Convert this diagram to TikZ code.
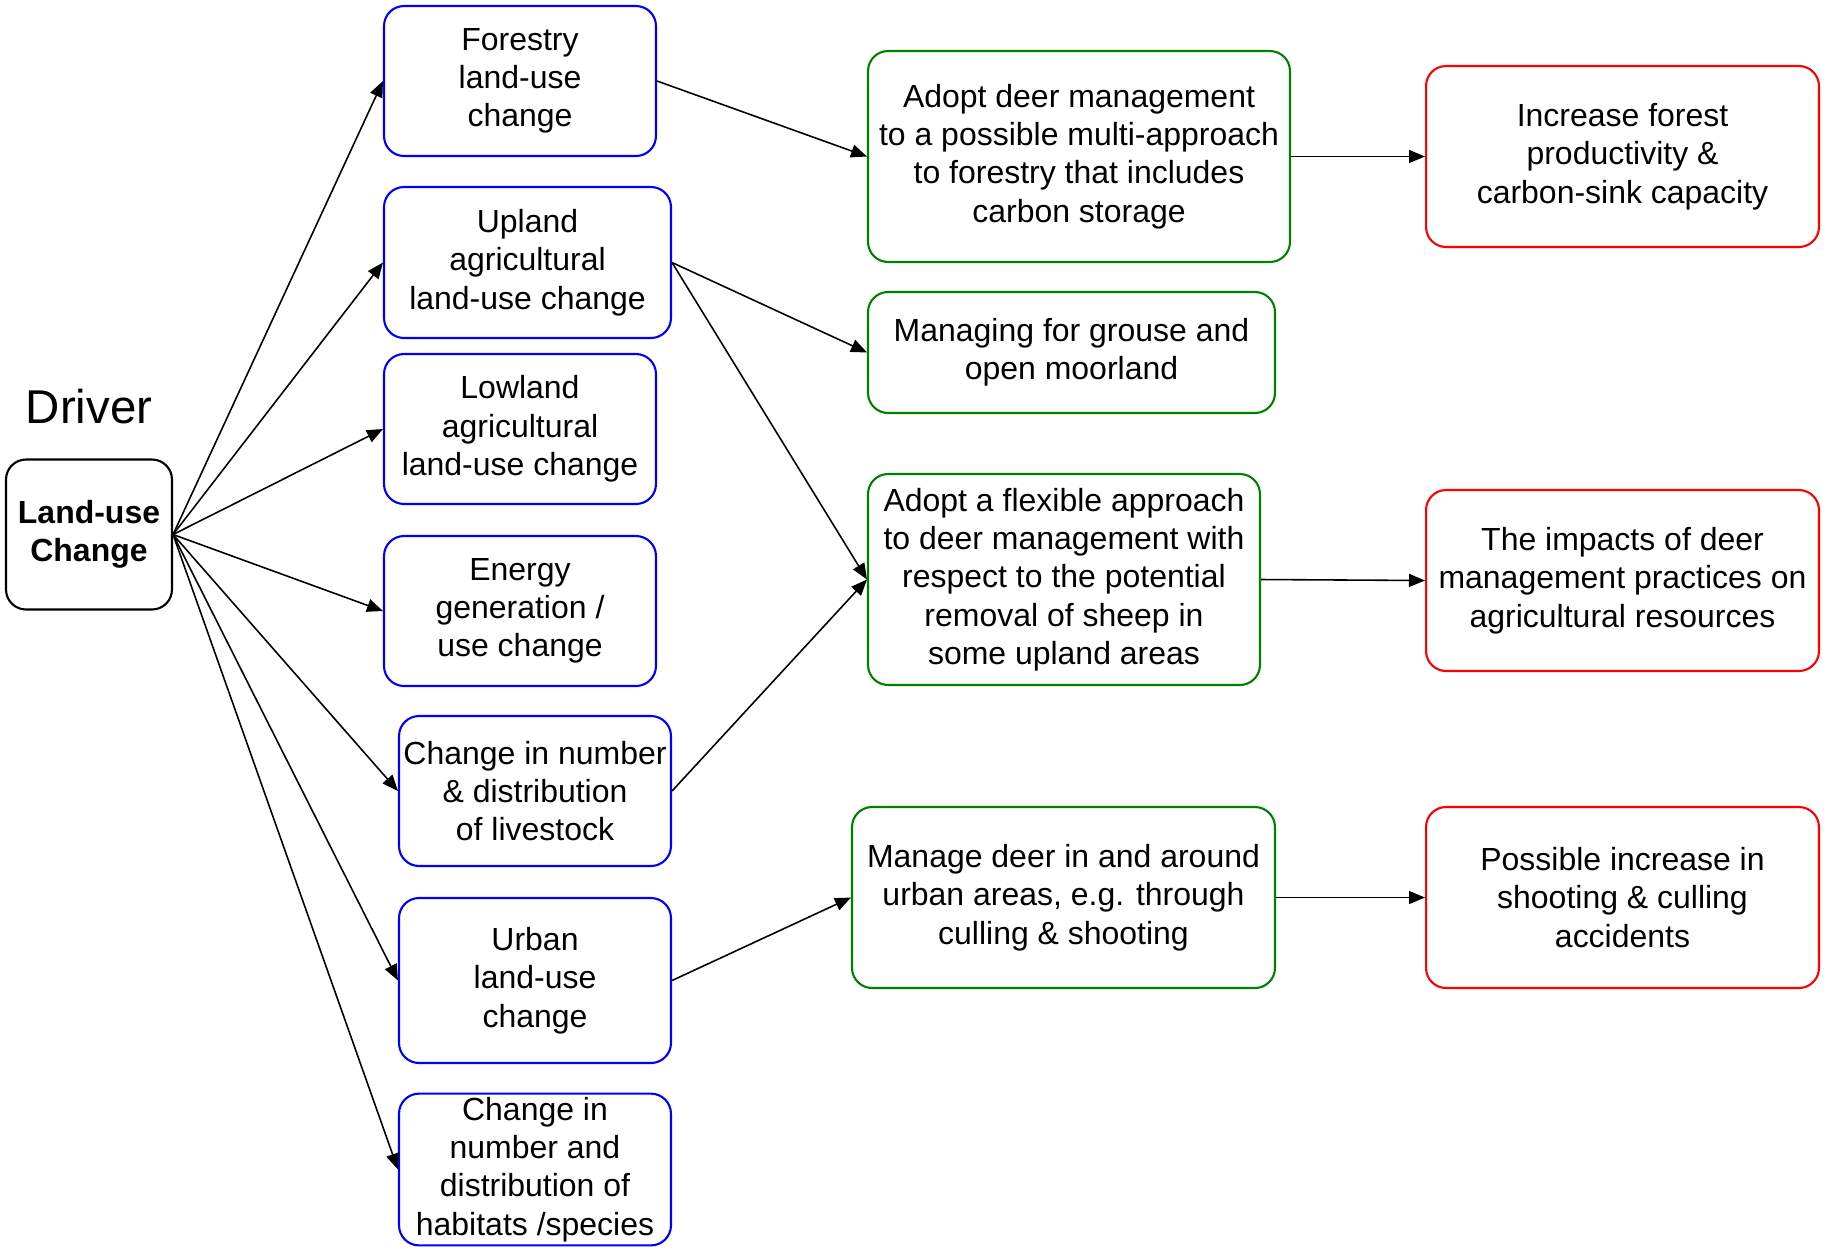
\documentclass[tikz,border=0pt]{standalone}
\usepackage{fontspec}
\setmainfont{Liberation Sans}
\usetikzlibrary{arrows.meta}

\tikzset{
	box/.style={draw, line width=1.2pt, rounded corners=0.4cm, align=center, inner sep=2pt,
		font=\fontsize{18.2pt}{21.8pt}\selectfont},
	drv/.style={box, black},
	bbox/.style={box, draw=blue},
	gbox/.style={box, draw=green!50!black},
	rbox/.style={box, draw=red},
	arr/.style={-{Triangle[length=0.32cm,width=0.26cm]}, line width=0.9pt}
}

\begin{document}
\begin{tikzpicture}[x=0.02cm,y=-0.02cm]
	\useasboundingbox (0,0) rectangle (1826,1249);

	\node (T) at (89,407) {\fontsize{27pt}{30pt}\selectfont Driver};
	\node[drv, minimum width=3.32cm, minimum height=3.0cm, font=\fontsize{18.2pt}{21.8pt}\selectfont\bfseries] (L) at (89,534.5) {Land-use\\Change};

	\node[bbox, minimum width=5.44cm, minimum height=3.0cm] (B1) at (520,81) {Forestry\\land-use\\change};
	\node[bbox, minimum width=5.74cm, minimum height=3.02cm] (B2) at (527.5,262.5) {Upland\\agricultural\\land-use change};
	\node[bbox, minimum width=5.44cm, minimum height=3.0cm] (B3) at (520,429) {Lowland\\agricultural\\land-use change};
	\node[bbox, minimum width=5.44cm, minimum height=3.0cm] (B4) at (520,611) {Energy\\generation /\\use change};
	\node[bbox, minimum width=5.44cm, minimum height=3.0cm] (B5) at (535,791) {Change in number\\\& distribution\\of livestock};
	\node[bbox, minimum width=5.44cm, minimum height=3.3cm] (B6) at (535,980.5) {Urban\\land-use\\change};
	\node[bbox, minimum width=5.44cm, minimum height=3.02cm] (B7) at (535,1169.5) {Change in\\number and\\distribution of\\habitats /species};

	\node[gbox, minimum width=8.44cm, minimum height=4.22cm] (G1) at (1079,156.5) {Adopt deer management\\to a possible multi-approach\\to forestry that includes\\carbon storage};
	\node[gbox, minimum width=8.14cm, minimum height=2.42cm] (G2) at (1071.5,352.5) {Managing for grouse and\\open moorland};
	\node[gbox, minimum width=7.84cm, minimum height=4.22cm] (G3) at (1064,579.5) {Adopt a flexible approach\\to deer management with\\respect to the potential\\removal of sheep in\\some upland areas};
	\node[gbox, minimum width=8.46cm, minimum height=3.62cm] (G4) at (1063.5,897.5) {Manage deer in and around\\urban areas, e.g. through\\culling \& shooting};

	\node[rbox, minimum width=7.86cm, minimum height=3.62cm] (R1) at (1622.5,156.5) {Increase forest\\productivity \&\\carbon-sink capacity};
	\node[rbox, minimum width=7.86cm, minimum height=3.62cm] (R2) at (1622.5,580.5) {The impacts of deer\\management practices on\\agricultural resources};
	\node[rbox, minimum width=7.86cm, minimum height=3.62cm] (R3) at (1622.5,897.5) {Possible increase in\\shooting \& culling\\accidents};

	\draw[arr] (L.east) -- (B1.west);
	\draw[arr] (L.east) -- (B2.west);
	\draw[arr] (L.east) -- (B3.west);
	\draw[arr] (L.east) -- (B4.west);
	\draw[arr] (L.east) -- (B5.west);
	\draw[arr] (L.east) -- (B6.west);
	\draw[arr] (L.east) -- (B7.west);

	\draw[arr] (B1.east) -- (G1.west);
	\draw[arr] (B2.east) -- (G2.west);
	\draw[arr] (B2.east) -- (G3.west);
	\draw[arr] (B5.east) -- (G3.west);
	\draw[arr] (B6.east) -- (G4.west);

	\draw[arr] (G1.east) -- (R1.west);
	\draw[arr] (G3.east) -- (R2.west);
	\draw[arr] (G4.east) -- (R3.west);
\end{tikzpicture}
\end{document}
